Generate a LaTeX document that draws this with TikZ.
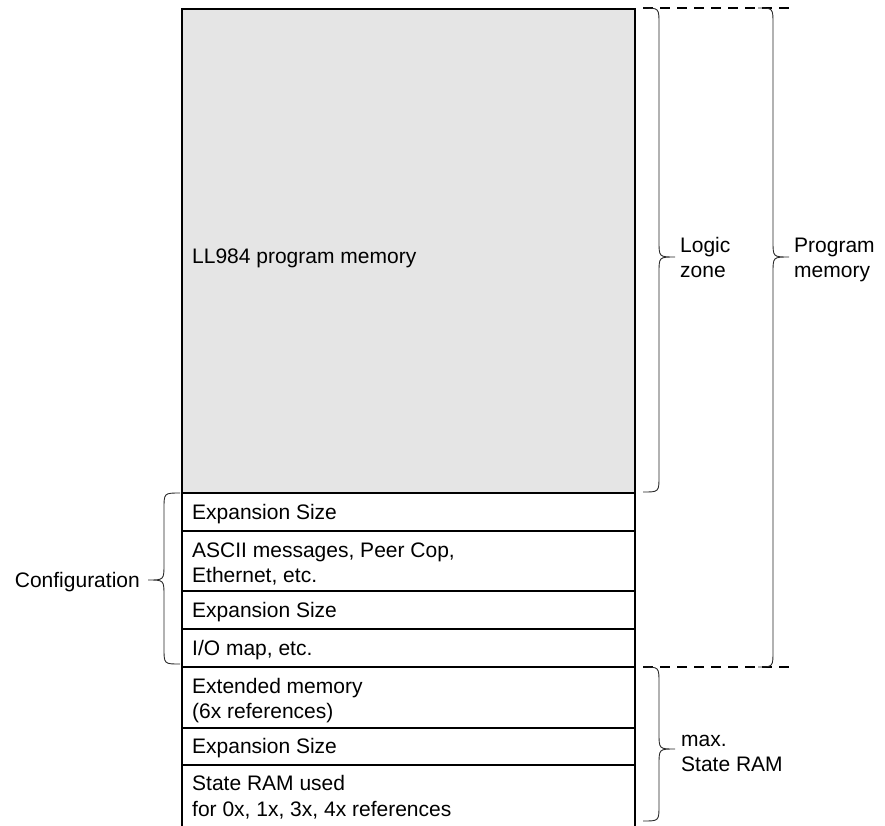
\documentclass[tikz,border=0pt]{standalone}
\usepackage{fontspec}
\setmainfont{Liberation Sans}
\begin{document}
\begin{tikzpicture}[x=1pt,y=-1pt,
  boxline/.style={line width=2.6pt},
  bracel/.style={line width=0.9pt, black!85},
  dashl/.style={line width=1.1pt, dash pattern=on 10pt off 7pt},
  lbl/.style={anchor=base west, inner sep=0pt, font=\fontsize{21}{25}\selectfont},
  lblr/.style={anchor=base east, inner sep=0pt, font=\fontsize{21}{25}\selectfont}]
\useasboundingbox (0,0) rectangle (885,825);
% gray program memory area
\fill[black!10] (182,9) rectangle (635,493);
% box outline (open at bottom)
\draw[boxline] (182,828) -- (182,9) -- (635,9) -- (635,828);
\foreach \yy in {493,531,591,629,667,728,765}
  \draw[boxline] (182,\yy) -- (635,\yy);
% dashed guide lines
\draw[dashl] (643,8) -- (792,8);
\draw[dashl] (643,667) -- (792,667);
% braces
\newcommand{\mybrace}[6]{% xend, xvert, xtip, ytop, ytip, ybot
  \draw[bracel] (#1,#4) .. controls (#2,#4) .. (#2,#4+16) -- (#2,#5-16)
    .. controls (#2,#5) .. (#3,#5) .. controls (#2,#5) .. (#2,#5+16)
    -- (#2,#6-16) .. controls (#2,#6) .. (#1,#6);}
\mybrace{643}{659}{675}{8}{257}{492}
\mybrace{758}{773}{789}{8}{257}{667}
\mybrace{643}{659}{675}{667}{749}{821}
\mybrace{180}{164}{148}{493}{580}{664}
% texts in the box
\node[lbl] (t1) at (192,263) {LL984 program memory};
\node[lbl] (t2) at (192,519) {Expansion Size};
\node[lbl] (t3a) at (192,557) {ASCII messages, Peer Cop,};
\node[lbl] (t3b) at (192,582) {Ethernet, etc.};
\node[lbl] (t4) at (192,617) {Expansion Size};
\node[lbl] (t5) at (192,655) {I/O map, etc.};
\node[lbl] (t6a) at (192,693) {Extended memory};
\node[lbl] (t6b) at (192,718) {(6x references)};
\node[lbl] (t7) at (192,753) {Expansion Size};
\node[lbl] (t8a) at (192,790) {State RAM used};
\node[lbl] (t8b) at (192,816) {for 0x, 1x, 3x, 4x references};
% side labels
\node[lbl] (lz1) at (680,252) {Logic};
\node[lbl] (lz2) at (680,277) {zone};
\node[lbl] (pm1) at (794,252) {Program};
\node[lbl] (pm2) at (794,277) {memory};
\node[lbl] (sr1) at (681,746) {max.};
\node[lbl] (sr2) at (681,771) {State RAM};
\node[lblr] (cf) at (140,587) {Configuration};
\end{tikzpicture}
\end{document}
